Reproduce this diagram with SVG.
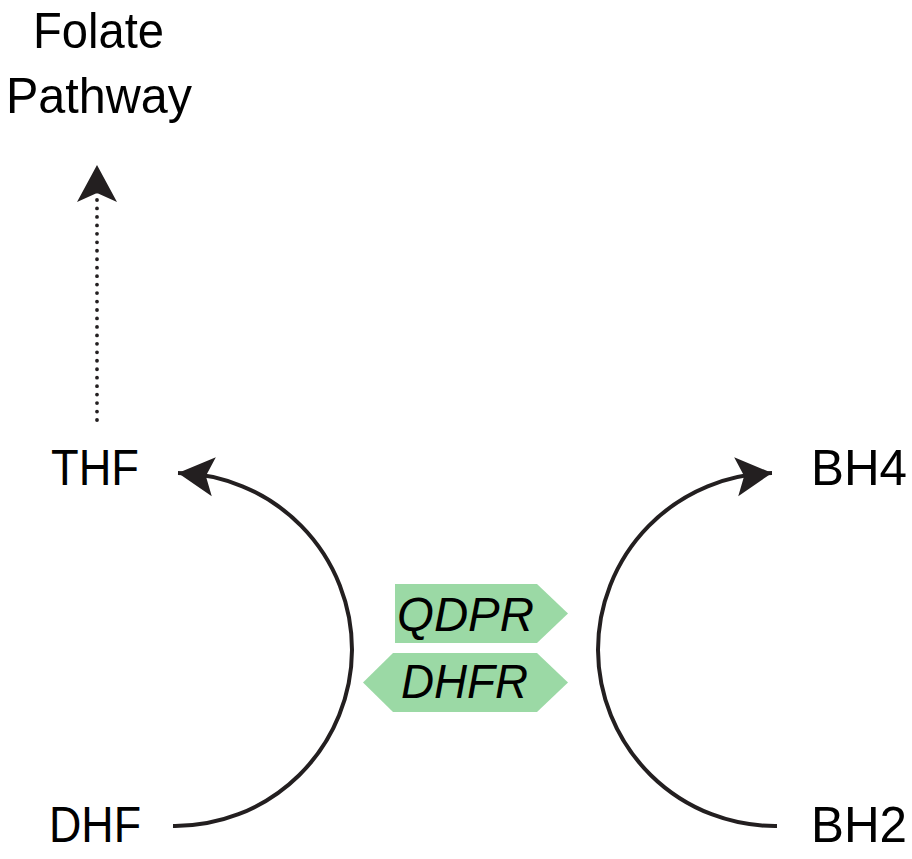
<svg xmlns="http://www.w3.org/2000/svg" width="912" height="859" viewBox="0 0 912 859">
  <style>
    .lbl { font-family: "Liberation Sans", Arial, sans-serif; font-size: 50px; fill: #000; }
    .enz { font-family: "Liberation Sans", Arial, sans-serif; font-size: 48px; font-style: italic; fill: #000; }
    .arc { fill: none; stroke: #231f20; stroke-width: 4; }
    .dots { fill: none; stroke: #231f20; stroke-width: 3.8; stroke-linecap: round; stroke-dasharray: 0 8.4615; }
    .tag { fill: #9bd9a5; }
    .head { fill: #231f20; }
  </style>
  <defs>
    <marker id="arrowL" markerUnits="userSpaceOnUse" orient="186" refX="0" refY="0" markerWidth="40" markerHeight="40" overflow="visible">
      <path class="head" d="M0,0 L-36,-19.5 L-28,0 L-36,19.5 Z"/>
    </marker>
    <marker id="arrowR" markerUnits="userSpaceOnUse" orient="354" refX="0" refY="0" markerWidth="40" markerHeight="40" overflow="visible">
      <path class="head" d="M0,0 L-36,-19.5 L-28,0 L-36,19.5 Z"/>
    </marker>
    <marker id="arrowDot" markerUnits="userSpaceOnUse" orient="auto" refX="-3" refY="0" markerWidth="40" markerHeight="40" overflow="visible">
      <path class="head" d="M0,0 L-37,-20 L-28,0 L-37,20 Z"/>
    </marker>
  </defs>

  <g id="connectors">
    <path class="arc" d="M173,826 A177,177 0 0 0 352,650 A177,177 0 0 0 178,473" marker-end="url(#arrowL)"/>
    <path class="arc" d="M777,826 A177,177 0 0 1 598,650 A177,177 0 0 1 772,473" marker-end="url(#arrowR)"/>
    <path class="dots" d="M97,420 L97,168" marker-end="url(#arrowDot)"/>
  </g>

  <g id="folate-pathway">
    <text class="lbl" x="33" y="48" textLength="131" lengthAdjust="spacingAndGlyphs">Folate</text>
    <text class="lbl" x="6" y="113" textLength="186" lengthAdjust="spacingAndGlyphs">Pathway</text>
  </g>
  <g id="THF">
    <text class="lbl" x="51" y="485" textLength="88" lengthAdjust="spacingAndGlyphs">THF</text>
  </g>
  <g id="BH4">
    <text class="lbl" x="811" y="485" textLength="96" lengthAdjust="spacingAndGlyphs">BH4</text>
  </g>
  <g id="DHF">
    <text class="lbl" x="49" y="842" textLength="92" lengthAdjust="spacingAndGlyphs">DHF</text>
  </g>
  <g id="BH2">
    <text class="lbl" x="811" y="842" textLength="96" lengthAdjust="spacingAndGlyphs">BH2</text>
  </g>
  <g id="QDPR">
    <polygon class="tag" points="395,584 537,584 568,613.5 537,643 395,643"/>
    <text class="enz" x="397" y="631" textLength="137" lengthAdjust="spacingAndGlyphs">QDPR</text>
  </g>
  <g id="DHFR">
    <polygon class="tag" points="363,682.5 393,653 537,653 568,682.5 537,712 393,712"/>
    <text class="enz" x="401" y="698" textLength="127" lengthAdjust="spacingAndGlyphs">DHFR</text>
  </g>
</svg>
